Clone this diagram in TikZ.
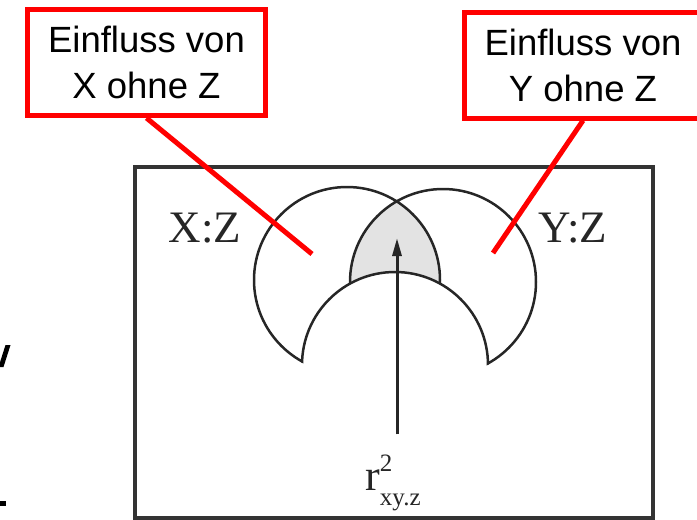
\documentclass[tikz,border=0pt]{standalone}
\usepackage{fontspec}
\setmainfont{Liberation Serif}
\newfontfamily\arialfont{Liberation Sans}
\usetikzlibrary{arrows.meta}
\begin{document}
\begin{tikzpicture}[x=1pt,y=-1pt,
  callout/.style={draw=red, line width=5pt, fill=white, minimum width=238pt, minimum height=106pt,
    align=center, inner sep=0pt, font=\arialfont\fontsize{36.5}{46}\selectfont},
  redline/.style={red, line width=5pt},
  venn/.style={line width=2.5pt, draw=black!85},
  frame/.style={line width=4.5pt, draw=black!80},
  setlbl/.style={font=\fontsize{45}{45}\selectfont, text=black!85, inner sep=0pt},
  fragment/.style={fill=black}]
\useasboundingbox (0,0) rectangle (697,520);
\clip (0,0) rectangle (697,520);

% outer frame
\draw[frame] (135,167) rectangle (653,518);

% Venn diagram
\coordinate (X) at (347,280);
\coordinate (Y) at (443,282);
\coordinate (Z) at (395,365);
\begin{scope}
  \clip (X) circle (93);
  \fill[gray!22] (Y) circle (93);
\end{scope}
\draw[venn] (X) circle (93) (Y) circle (93);
\fill[white] (Z) circle (93);
\begin{scope}
  \clip (X) circle (94.2) (Y) circle (94.2);
  \draw[venn] (Z) circle (93);
\end{scope}

% set labels
\node[setlbl] (xz) at (205,228) {X:Z};
\node[setlbl] (yz) at (573,228) {Y:Z};

% r^2 label and arrow
\node[anchor=base west, inner sep=2pt, text=black!85] (rlbl) at (363,490)
  {\fontsize{44}{44}\selectfont r\makebox[0pt][l]{\raisebox{19pt}{\fontsize{25}{25}\selectfont 2}}\raisebox{-15pt}{\fontsize{25}{25}\selectfont xy.z}};
\coordinate (tip) at (397,238);
\draw[line width=3pt, black!85, shorten <=18pt, -{Triangle[length=18pt,width=9pt]}] (rlbl.north -| tip) -- (tip);

% callouts
\coordinate (pX) at (312,254);
\coordinate (pY) at (493,253);
\node[callout] (boxX) at (146.5,62.5) {Einfluss von\\X ohne Z};
\node[callout] (boxY) at (583,65) {Einfluss von\\Y ohne Z};
\draw[redline] (boxX.south) -- (pX);
\draw[redline] (boxY.south) -- (pY);

% clipped text fragments at the left edge
\fill[fragment] (5.5,345) -- (10.5,345) -- (3.5,367) -- (-1.5,367) -- cycle;
\fill[fragment] (0,501) rectangle (6,506);
\end{tikzpicture}
\end{document}
